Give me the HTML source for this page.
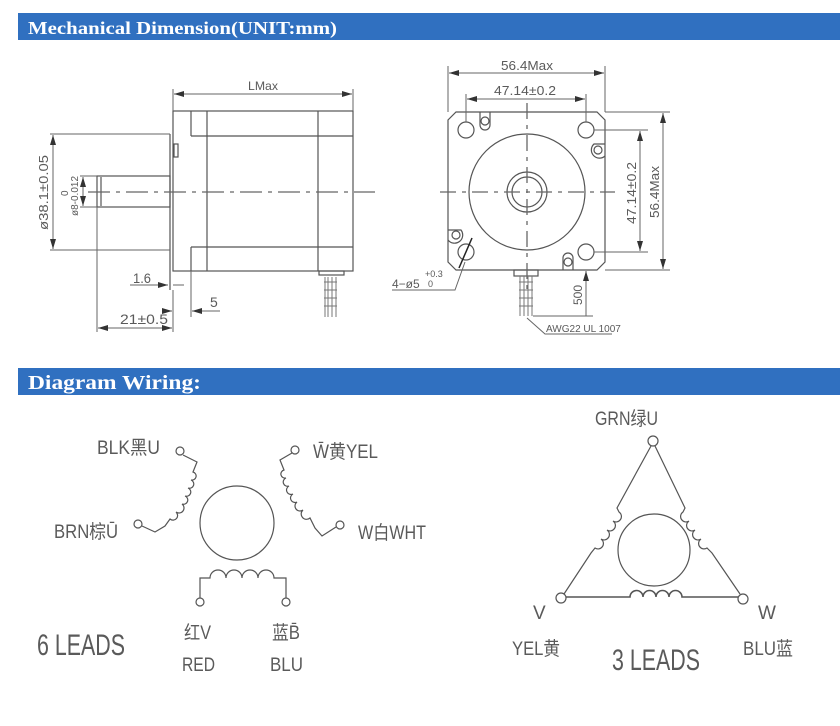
<!DOCTYPE html>
<html><head><meta charset="utf-8"><style>
html,body{margin:0;padding:0;background:#fff;}
svg{display:block}
.t{font-family:"Liberation Sans","Noto Sans CJK SC",sans-serif;fill:#5a5a5a;}
.l{stroke:#555;fill:none;stroke-width:1.2}
.d{stroke:#666;fill:none;stroke-width:1}
</style></head><body>
<svg width="840" height="726" viewBox="0 0 840 726" xmlns="http://www.w3.org/2000/svg">
<defs>
<marker id="a" viewBox="0 0 10 6" refX="10" refY="3" markerWidth="10" markerHeight="6" orient="auto-start-reverse" markerUnits="userSpaceOnUse"><path d="M0,0L10,3L0,6z" fill="#333"/></marker>
</defs>
<rect x="18" y="13" width="822" height="27" fill="#3070c0"/>
<text x="28" y="34" font-family="Liberation Serif,serif" font-weight="bold" font-size="18" fill="#fff" textLength="309" lengthAdjust="spacingAndGlyphs">Mechanical Dimension(UNIT:mm)</text>
<rect x="18" y="368" width="822" height="27" fill="#3070c0"/>
<text x="28" y="389" font-family="Liberation Serif,serif" font-weight="bold" font-size="20" fill="#fff" textLength="173" lengthAdjust="spacingAndGlyphs">Diagram Wiring:</text>

<!-- LEFT SIDE VIEW -->
<g class="l">
<rect x="173" y="111" width="180" height="160"/>
<line x1="191" y1="111" x2="191" y2="136"/><line x1="191" y1="247" x2="191" y2="271"/>
<line x1="207" y1="111" x2="207" y2="271"/><line x1="318" y1="111" x2="318" y2="271"/>
<line x1="191" y1="136" x2="353" y2="136"/><line x1="191" y1="247" x2="353" y2="247"/>
<line x1="170" y1="134" x2="170" y2="290"/>
<rect x="174" y="144" width="4" height="13"/>
<rect x="97" y="176" width="73" height="31"/>
<line x1="101" y1="177" x2="101" y2="206"/>
<rect x="319" y="271" width="25" height="4"/>
</g>
<g class="d">
<line x1="173" y1="89" x2="173" y2="111"/><line x1="353" y1="89" x2="353" y2="111"/>
<line x1="174" y1="94" x2="352" y2="94" marker-start="url(#a)" marker-end="url(#a)"/>
<line x1="50" y1="134" x2="170" y2="134"/><line x1="50" y1="250" x2="170" y2="250"/>
<line x1="53" y1="135" x2="53" y2="249" marker-start="url(#a)" marker-end="url(#a)"/>
<line x1="83" y1="177" x2="83" y2="206" marker-start="url(#a)" marker-end="url(#a)"/>
<line x1="80" y1="176" x2="97" y2="176"/><line x1="80" y1="207" x2="97" y2="207"/>
<line x1="88" y1="192" x2="375" y2="192" stroke-dasharray="22,6,4,6" stroke-width="1.3"/>
<line x1="130" y1="285" x2="168" y2="285" marker-end="url(#a)"/><line x1="173" y1="285" x2="184" y2="285"/>
<line x1="191" y1="271" x2="191" y2="317"/>
<line x1="165" y1="311" x2="172" y2="311" marker-end="url(#a)"/><line x1="220" y1="311" x2="192" y2="311" marker-end="url(#a)"/>
<line x1="97" y1="207" x2="97" y2="332"/><line x1="173" y1="290" x2="173" y2="332"/>
<line x1="98" y1="328" x2="172" y2="328" marker-start="url(#a)" marker-end="url(#a)"/>
</g>
<g stroke="#777" stroke-width="1">
<line x1="325" y1="277" x2="325" y2="317"/><line x1="328" y1="277" x2="328" y2="317"/><line x1="332" y1="277" x2="332" y2="317"/><line x1="336" y1="277" x2="336" y2="317"/>
<path d="M324,282h13M324,290h13M324,298h13M324,306h13" />
</g>
<text class="t" x="248" y="90" font-size="12" textLength="30" lengthAdjust="spacingAndGlyphs">LMax</text>
<text class="t" x="133" y="283" font-size="14" textLength="18" lengthAdjust="spacingAndGlyphs">1.6</text>
<text class="t" x="210" y="307" font-size="14">5</text>
<text class="t" x="120" y="324" font-size="14" textLength="48" lengthAdjust="spacingAndGlyphs">21±0.5</text>
<text class="t" font-size="13" transform="translate(48,230) rotate(-90)" textLength="75" lengthAdjust="spacingAndGlyphs">ø38.1±0.05</text>
<text class="t" font-size="10" transform="translate(78,216) rotate(-90)">ø8-0.012</text>
<text class="t" font-size="10" transform="translate(68,196) rotate(-90)">0</text>

<!-- RIGHT FRONT VIEW -->
<g class="l">
<path d="M456,112H597L605,120V262L597,270H456L448,262V120Z"/>
<circle cx="466" cy="130" r="8"/><circle cx="586" cy="130" r="8"/>
<circle cx="466" cy="252" r="8"/><circle cx="586" cy="252" r="8"/>
<circle cx="527" cy="192" r="58"/>
<circle cx="527" cy="192" r="20"/><circle cx="527" cy="192" r="15"/>
<rect x="514" y="270" width="24" height="6"/>
</g>
<g class="l" stroke-width="1">
<circle cx="485" cy="121" r="4"/><circle cx="598" cy="150" r="4"/><circle cx="456" cy="235" r="4"/><circle cx="568" cy="262" r="4"/>
<path d="M480,112V125A5,5 0 0 0 490,125V112M605,144H594A6,6 0 0 0 605,156M448,230H461A5,5 0 0 1 448,240M563,270V258A5,5 0 0 1 573,258V270"/>
</g>
<g class="d">
<line x1="440" y1="192" x2="615" y2="192" stroke-dasharray="16,6,4,6" stroke-width="1.3"/>
<line x1="527" y1="103" x2="527" y2="290" stroke-dasharray="16,6,4,6" stroke-width="1.3"/>
<line x1="448" y1="66" x2="448" y2="112"/><line x1="605" y1="66" x2="605" y2="112"/>
<line x1="449" y1="73" x2="604" y2="73" marker-start="url(#a)" marker-end="url(#a)"/>
<line x1="466" y1="94" x2="466" y2="122"/><line x1="586" y1="94" x2="586" y2="122"/>
<line x1="467" y1="99" x2="585" y2="99" marker-start="url(#a)" marker-end="url(#a)"/>
<line x1="594" y1="130" x2="648" y2="130"/><line x1="594" y1="252" x2="648" y2="252"/>
<line x1="640" y1="131" x2="640" y2="251" marker-start="url(#a)" marker-end="url(#a)"/>
<line x1="605" y1="112" x2="670" y2="112"/><line x1="605" y1="270" x2="670" y2="270"/>
<line x1="663" y1="113" x2="663" y2="269" marker-start="url(#a)" marker-end="url(#a)"/>
<line x1="586" y1="271" x2="586" y2="316" marker-start="url(#a)"/>
<line x1="533" y1="316" x2="593" y2="316"/>
<path d="M527,318L545,334H612"/>
<path d="M392,290H455L465,262"/>
<line x1="459" y1="268" x2="472" y2="238" stroke="#222" stroke-width="1.5"/>
</g>
<g stroke="#777" stroke-width="1">
<line x1="520" y1="276" x2="520" y2="316"/><line x1="524" y1="276" x2="524" y2="316"/><line x1="528" y1="276" x2="528" y2="316"/><line x1="532" y1="276" x2="532" y2="316"/>
<path d="M519,282h14M519,290h14M519,298h14M519,306h14"/>
</g>
<text class="t" x="501" y="70" font-size="13" textLength="52" lengthAdjust="spacingAndGlyphs">56.4Max</text>
<text class="t" x="494" y="95" font-size="13" textLength="62" lengthAdjust="spacingAndGlyphs">47.14±0.2</text>
<text class="t" font-size="13" transform="translate(636,224) rotate(-90)" textLength="62" lengthAdjust="spacingAndGlyphs">47.14±0.2</text>
<text class="t" font-size="13" transform="translate(659,218) rotate(-90)" textLength="52" lengthAdjust="spacingAndGlyphs">56.4Max</text>
<text class="t" font-size="12" transform="translate(582,305) rotate(-90)">500</text>
<text class="t" x="546" y="332" font-size="10">AWG22 UL 1007</text>
<text class="t" x="392" y="288" font-size="12">4−ø5</text>
<text class="t" x="425" y="277" font-size="9">+0.3</text>
<text class="t" x="428" y="287" font-size="9">0</text>

<!-- 6 LEADS -->
<g class="l" stroke-width="1.1">
<circle cx="237" cy="523" r="37"/>
<circle cx="180" cy="451" r="4"/><circle cx="138" cy="524" r="4"/>
<circle cx="295" cy="450" r="4"/><circle cx="340" cy="525" r="4"/>
<circle cx="200" cy="602" r="4"/><circle cx="286" cy="602" r="4"/>
<path d="M183,455L197,462L193,472A4,4 0 0 1 191,480A4,4 0 0 1 188,488A4,4 0 0 1 185,496A4,4 0 0 1 182,504A4,4 0 0 1 176,512A4,4 0 0 1 170,519L165,526L155,532L142,526"/>
<path d="M292,453L280,460L284,470A4,4 0 0 0 286,478A4,4 0 0 0 289,486A4,4 0 0 0 293,494A4,4 0 0 0 297,502A4,4 0 0 0 303,510A4,4 0 0 0 310,518L315,528L322,536L336,527"/>
<path d="M200,598V578H210A8,8 0 0 1 226,578A8,8 0 0 1 242,578A8,8 0 0 1 258,578A8,8 0 0 1 274,578H286V598"/>
</g>
<text class="t" x="97" y="454" font-size="19" textLength="63" lengthAdjust="spacingAndGlyphs">BLK黑U</text>
<text class="t" x="54" y="538" font-size="19" textLength="64" lengthAdjust="spacingAndGlyphs">BRN棕Ū</text>
<text class="t" x="313" y="458" font-size="19" textLength="65" lengthAdjust="spacingAndGlyphs">W̄黄YEL</text>
<text class="t" x="358" y="539" font-size="19" textLength="68" lengthAdjust="spacingAndGlyphs">W白WHT</text>
<text class="t" x="184" y="639" font-size="19" textLength="27" lengthAdjust="spacingAndGlyphs">红V</text>
<text class="t" x="272" y="639" font-size="19" textLength="28" lengthAdjust="spacingAndGlyphs">蓝B̄</text>
<text class="t" x="182" y="671" font-size="19" textLength="33" lengthAdjust="spacingAndGlyphs">RED</text>
<text class="t" x="270" y="671" font-size="19" textLength="33" lengthAdjust="spacingAndGlyphs">BLU</text>
<text class="t" x="37" y="655" font-size="30" textLength="88" lengthAdjust="spacingAndGlyphs">6 LEADS</text>

<!-- 3 LEADS -->
<g class="l" stroke-width="1.1">
<circle cx="654" cy="550" r="36"/>
<circle cx="653" cy="441" r="5"/><circle cx="561" cy="598" r="5"/><circle cx="743" cy="599" r="5"/>
<path d="M651,446L617,508L619,512A3.5,3.5 0 0 1 613,521A3.5,3.5 0 0 1 607,530A3.5,3.5 0 0 1 601,539A3.5,3.5 0 0 1 595,548L591,553L564,594"/>
<path d="M655,446L685,508L683,512A3.5,3.5 0 0 0 689,521A3.5,3.5 0 0 0 695,530A3.5,3.5 0 0 0 701,539A3.5,3.5 0 0 0 707,548L712,553L740,594"/>
<path d="M566,597H630A6,6 0 0 1 643,597A6,6 0 0 1 656,597A6,6 0 0 1 669,597A6,6 0 0 1 682,597H738" stroke-width="1.6"/>
</g>
<text class="t" x="595" y="425" font-size="19" textLength="63" lengthAdjust="spacingAndGlyphs">GRN绿U</text>
<text class="t" x="533" y="619" font-size="19">V</text>
<text class="t" x="512" y="655" font-size="19" textLength="48" lengthAdjust="spacingAndGlyphs">YEL黄</text>
<text class="t" x="758" y="619" font-size="19">W</text>
<text class="t" x="743" y="655" font-size="19" textLength="50" lengthAdjust="spacingAndGlyphs">BLU蓝</text>
<text class="t" x="612" y="670" font-size="30" textLength="88" lengthAdjust="spacingAndGlyphs">3 LEADS</text>
</svg>
</body></html>
